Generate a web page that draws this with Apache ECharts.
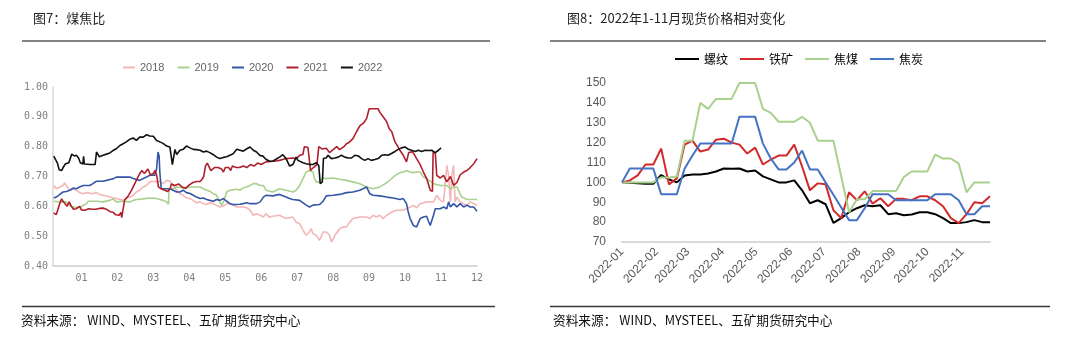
<!DOCTYPE html>
<html>
<head>
<meta charset="utf-8">
<script src="https://cdn.jsdelivr.net/npm/echarts@6/dist/echarts.min.js"></script>
<style>
  html, body { margin: 0; padding: 0; background: #ffffff; }
  #chart { width: 1080px; height: 347px; }
</style>
</head>
<body>
<div id="chart"></div>
<script>
// ---------- 图7：煤焦比 (x = month position, "01" at 1 ... "12" at 12) ----------
const ratioTicks = [1, 2, 3, 4, 5, 6, 7, 8, 9, 10, 11, 12];
const ratioTickLabels = ['01', '02', '03', '04', '05', '06', '07', '08', '09', '10', '11', '12'];
const ratioYears = ['2018', '2019', '2020', '2021', '2022'];

const ratio2018 = [[0.23,0.67],[0.3,0.659],[0.4,0.665],[0.49,0.67],[0.53,0.679],[0.58,0.67],[0.68,0.654],[0.77,0.659],[0.86,0.654],[0.95,0.646],[1.05,0.642],[1.14,0.646],[1.32,0.642],[1.42,0.646],[1.51,0.64],[1.6,0.637],[1.7,0.635],[1.88,0.628],[1.97,0.626],[2.07,0.623],[2.16,0.62],[2.25,0.628],[2.35,0.631],[2.44,0.637],[2.53,0.648],[2.62,0.654],[2.72,0.665],[2.81,0.67],[2.9,0.682],[3.0,0.684],[3.09,0.682],[3.18,0.684],[3.27,0.676],[3.37,0.687],[3.46,0.684],[3.55,0.67],[3.65,0.654],[3.74,0.642],[3.83,0.637],[3.92,0.628],[4.02,0.626],[4.11,0.62],[4.2,0.612],[4.3,0.615],[4.39,0.609],[4.48,0.606],[4.57,0.612],[4.67,0.609],[4.76,0.603],[4.85,0.598],[4.95,0.601],[5.04,0.609],[5.13,0.609],[5.22,0.603],[5.32,0.598],[5.5,0.598],[5.6,0.595],[5.69,0.587],[5.78,0.57],[5.87,0.575],[5.97,0.57],[6.06,0.564],[6.13,0.575],[6.23,0.564],[6.32,0.567],[6.51,0.57],[6.6,0.564],[6.69,0.559],[6.88,0.564],[6.97,0.547],[7.07,0.542],[7.16,0.52],[7.25,0.503],[7.34,0.514],[7.39,0.525],[7.44,0.508],[7.53,0.503],[7.62,0.486],[7.72,0.514],[7.81,0.514],[7.9,0.503],[7.95,0.48],[8.05,0.503],[8.18,0.525],[8.28,0.531],[8.37,0.531],[8.46,0.547],[8.55,0.559],[8.74,0.564],[8.93,0.564],[9.02,0.559],[9.11,0.57],[9.2,0.564],[9.3,0.57],[9.39,0.559],[9.49,0.57],[9.63,0.581],[9.77,0.587],[9.95,0.587],[10.04,0.592],[10.14,0.598],[10.23,0.603],[10.32,0.595],[10.42,0.609],[10.6,0.615],[10.79,0.615],[10.88,0.637],[10.98,0.62],[11.07,0.615],[11.12,0.68],[11.16,0.737],[11.21,0.704],[11.26,0.615],[11.3,0.704],[11.35,0.737],[11.39,0.615],[11.44,0.631],[11.53,0.615],[11.63,0.609],[11.72,0.603],[11.81,0.615],[11.91,0.609],[12.0,0.603]];

const ratio2019 = [[0.23,0.617],[0.4,0.615],[0.58,0.615],[0.68,0.603],[0.77,0.598],[0.95,0.596],[1.05,0.603],[1.14,0.609],[1.19,0.617],[1.42,0.617],[1.6,0.615],[1.79,0.62],[1.88,0.625],[1.97,0.615],[2.16,0.617],[2.35,0.615],[2.44,0.62],[2.53,0.623],[2.72,0.625],[2.9,0.628],[3.09,0.626],[3.27,0.62],[3.37,0.615],[3.42,0.607],[3.44,0.659],[3.55,0.659],[3.65,0.665],[3.83,0.662],[4.02,0.665],[4.3,0.665],[4.39,0.659],[4.48,0.654],[4.57,0.651],[4.67,0.642],[4.76,0.637],[4.85,0.615],[4.9,0.603],[4.95,0.615],[5.04,0.648],[5.13,0.654],[5.32,0.657],[5.41,0.654],[5.5,0.662],[5.6,0.665],[5.69,0.67],[5.78,0.676],[5.87,0.676],[5.97,0.67],[6.06,0.67],[6.13,0.654],[6.32,0.648],[6.51,0.659],[6.69,0.654],[6.88,0.648],[6.97,0.654],[7.07,0.67],[7.16,0.693],[7.25,0.715],[7.34,0.72],[7.44,0.715],[7.48,0.693],[7.53,0.682],[7.62,0.682],[7.72,0.695],[7.81,0.693],[8.0,0.695],[8.18,0.691],[8.37,0.687],[8.55,0.682],[8.74,0.676],[8.93,0.665],[9.11,0.659],[9.3,0.665],[9.49,0.679],[9.67,0.698],[9.76,0.706],[9.86,0.713],[9.95,0.715],[10.04,0.72],[10.14,0.715],[10.23,0.713],[10.32,0.715],[10.42,0.715],[10.51,0.698],[10.6,0.693],[10.79,0.676],[10.98,0.67],[11.16,0.67],[11.26,0.659],[11.35,0.665],[11.44,0.665],[11.53,0.642],[11.58,0.631],[11.72,0.623],[12.0,0.623]];

const ratio2020 = [[0.23,0.628],[0.3,0.631],[0.4,0.64],[0.49,0.648],[0.58,0.65],[0.68,0.654],[0.77,0.661],[0.86,0.659],[0.95,0.665],[1.05,0.67],[1.23,0.67],[1.32,0.676],[1.42,0.684],[1.6,0.684],[1.7,0.687],[1.79,0.69],[1.88,0.692],[1.97,0.698],[2.35,0.698],[2.44,0.693],[2.53,0.69],[2.62,0.687],[2.72,0.693],[2.81,0.698],[2.9,0.704],[3.04,0.704],[3.09,0.726],[3.13,0.782],[3.16,0.77],[3.18,0.715],[3.22,0.659],[3.27,0.654],[3.46,0.659],[3.55,0.654],[3.65,0.648],[3.74,0.648],[3.83,0.654],[3.92,0.646],[4.02,0.643],[4.11,0.637],[4.2,0.631],[4.3,0.626],[4.39,0.628],[4.48,0.623],[4.57,0.62],[4.67,0.617],[4.76,0.623],[4.85,0.62],[4.95,0.626],[5.04,0.617],[5.13,0.609],[5.22,0.606],[5.32,0.606],[5.41,0.607],[5.5,0.609],[5.6,0.612],[5.69,0.609],[5.87,0.609],[5.97,0.615],[6.06,0.631],[6.13,0.637],[6.32,0.635],[6.51,0.64],[6.69,0.631],[6.79,0.626],[6.88,0.623],[7.07,0.62],[7.25,0.604],[7.34,0.598],[7.44,0.604],[7.62,0.606],[7.72,0.617],[7.81,0.635],[8.0,0.637],[8.18,0.64],[8.37,0.646],[8.55,0.648],[8.74,0.654],[8.83,0.659],[8.93,0.665],[8.98,0.66],[9.02,0.642],[9.11,0.637],[9.3,0.635],[9.49,0.631],[9.67,0.628],[9.86,0.623],[9.95,0.626],[10.04,0.609],[10.09,0.58],[10.14,0.559],[10.23,0.536],[10.32,0.531],[10.42,0.559],[10.51,0.564],[10.6,0.567],[10.65,0.55],[10.7,0.536],[10.74,0.534],[10.79,0.57],[10.84,0.592],[10.88,0.588],[10.98,0.592],[11.07,0.598],[11.16,0.592],[11.21,0.615],[11.26,0.598],[11.35,0.609],[11.44,0.598],[11.53,0.609],[11.63,0.598],[11.72,0.604],[11.81,0.598],[11.91,0.598],[12.0,0.583]];

const ratio2021 = [[0.23,0.578],[0.3,0.572],[0.35,0.575],[0.4,0.61],[0.45,0.625],[0.5,0.615],[0.55,0.62],[0.6,0.6],[0.66,0.615],[0.72,0.6],[0.78,0.59],[0.86,0.592],[0.95,0.6],[1.0,0.588],[1.1,0.587],[1.2,0.592],[1.3,0.59],[1.4,0.59],[1.5,0.593],[1.6,0.594],[1.7,0.59],[1.8,0.582],[1.88,0.58],[1.95,0.572],[2.0,0.578],[2.05,0.57],[2.1,0.58],[2.12,0.562],[2.2,0.62],[2.3,0.635],[2.4,0.655],[2.5,0.68],[2.6,0.705],[2.68,0.72],[2.75,0.71],[2.85,0.725],[2.92,0.705],[3.0,0.71],[3.05,0.72],[3.1,0.7],[3.14,0.665],[3.2,0.66],[3.3,0.655],[3.4,0.65],[3.47,0.66],[3.5,0.675],[3.6,0.67],[3.7,0.675],[3.8,0.665],[3.9,0.66],[4.0,0.672],[4.1,0.68],[4.2,0.683],[4.3,0.683],[4.35,0.69],[4.4,0.7],[4.45,0.735],[4.5,0.745],[4.55,0.748],[4.6,0.72],[4.7,0.73],[4.8,0.73],[4.9,0.725],[4.95,0.715],[5.0,0.73],[5.1,0.73],[5.15,0.72],[5.2,0.735],[5.3,0.73],[5.4,0.73],[5.5,0.735],[5.6,0.73],[5.7,0.74],[5.8,0.735],[5.9,0.745],[6.0,0.74],[6.04,0.742],[6.13,0.749],[6.32,0.751],[6.51,0.754],[6.69,0.76],[6.88,0.762],[6.97,0.76],[7.07,0.771],[7.16,0.774],[7.2,0.8],[7.3,0.797],[7.34,0.796],[7.37,0.72],[7.45,0.73],[7.55,0.74],[7.6,0.8],[7.7,0.792],[7.81,0.795],[7.9,0.78],[8.0,0.79],[8.1,0.8],[8.18,0.79],[8.3,0.8],[8.37,0.81],[8.45,0.815],[8.55,0.827],[8.65,0.85],[8.74,0.87],[8.85,0.88],[8.93,0.894],[9.0,0.927],[9.25,0.927],[9.3,0.915],[9.35,0.91],[9.42,0.895],[9.49,0.883],[9.56,0.86],[9.63,0.85],[9.72,0.816],[9.8,0.8],[9.86,0.787],[9.95,0.771],[10.04,0.749],[10.1,0.78],[10.2,0.783],[10.25,0.775],[10.32,0.76],[10.42,0.74],[10.51,0.715],[10.6,0.693],[10.7,0.654],[10.76,0.65],[10.78,0.78],[10.84,0.78],[10.88,0.704],[10.98,0.695],[11.07,0.704],[11.16,0.682],[11.26,0.7],[11.35,0.67],[11.44,0.68],[11.53,0.705],[11.63,0.715],[11.72,0.72],[11.81,0.73],[11.91,0.743],[12.0,0.76]];

const ratio2022 = [[0.23,0.768],[0.28,0.774],[0.33,0.746],[0.38,0.723],[0.45,0.72],[0.5,0.732],[0.56,0.743],[0.65,0.746],[0.7,0.746],[0.73,0.775],[0.8,0.769],[0.86,0.771],[0.92,0.762],[0.97,0.746],[1.04,0.742],[1.06,0.768],[1.08,0.742],[1.25,0.74],[1.38,0.74],[1.42,0.782],[1.46,0.788],[1.5,0.766],[1.6,0.771],[1.7,0.775],[1.79,0.779],[1.88,0.787],[1.97,0.793],[2.07,0.804],[2.16,0.81],[2.25,0.816],[2.35,0.825],[2.44,0.829],[2.53,0.821],[2.62,0.832],[2.72,0.832],[2.81,0.84],[2.9,0.836],[3.0,0.835],[3.09,0.821],[3.18,0.816],[3.27,0.811],[3.37,0.802],[3.46,0.799],[3.5,0.8],[3.53,0.74],[3.57,0.737],[3.6,0.79],[3.65,0.774],[3.74,0.788],[3.83,0.791],[3.92,0.802],[4.02,0.796],[4.11,0.791],[4.2,0.79],[4.3,0.788],[4.39,0.782],[4.48,0.785],[4.57,0.78],[4.67,0.773],[4.76,0.765],[4.85,0.76],[4.95,0.764],[5.04,0.766],[5.13,0.771],[5.22,0.776],[5.32,0.791],[5.41,0.788],[5.5,0.785],[5.6,0.793],[5.69,0.799],[5.78,0.788],[5.87,0.782],[5.97,0.77],[6.04,0.769],[6.13,0.758],[6.23,0.751],[6.32,0.751],[6.41,0.758],[6.51,0.765],[6.6,0.773],[6.69,0.76],[6.79,0.735],[6.88,0.74],[6.97,0.765],[7.02,0.754],[7.07,0.756],[7.16,0.746],[7.25,0.743],[7.35,0.74],[7.44,0.74],[7.53,0.746],[7.6,0.737],[7.64,0.676],[7.7,0.682],[7.73,0.76],[7.81,0.763],[7.86,0.771],[7.95,0.76],[8.05,0.762],[8.14,0.765],[8.23,0.771],[8.32,0.765],[8.42,0.762],[8.51,0.762],[8.6,0.771],[8.7,0.769],[8.79,0.76],[8.88,0.754],[8.97,0.76],[9.06,0.754],[9.16,0.757],[9.25,0.76],[9.35,0.771],[9.44,0.773],[9.53,0.771],[9.62,0.777],[9.72,0.784],[9.81,0.791],[9.9,0.796],[10.0,0.799],[10.09,0.791],[10.18,0.788],[10.28,0.784],[10.37,0.788],[10.46,0.784],[10.56,0.788],[10.65,0.787],[10.74,0.788],[10.84,0.78],[10.93,0.788],[11.0,0.796]];

// ---------- 图8：2022年1-11月现货价格相对变化 (weekly, day offset from 2022-01-01) ----------
const weekDays = [0,7,14,21,28,35,42,49,56,63,70,77,84,91,98,105,112,119,126,133,140,147,154,161,168,175,182,189,196,203,210,217,224,231,238,245,252,259,266,273,280,287,294,301,308,315,322,329];
const monthStartDays = [0, 31, 59, 90, 120, 151, 181, 212, 243, 273, 304];
const monthLabels = ['2022-01','2022-02','2022-03','2022-04','2022-05','2022-06','2022-07','2022-08','2022-09','2022-10','2022-11'];
const spotNames = ['螺纹', '铁矿', '焦煤', '焦炭'];
const rebar = [100,99.8,99.5,99.3,99.3,103.7,101.5,100,103.5,104,104,104.5,105.5,107,106.8,107,105.5,106,103,101.5,100,100,101,96,89.5,91,89,79.6,82,85,87,88.5,88,88.5,84,84.5,83.5,83.8,85,85,84,82,79.5,79.5,80,81,80,80];
const ironOre = [100,101,103.5,109,109,117,99,102,119,121,115.5,116.5,121.5,122,120,119,114.5,117.5,109,111.5,113.5,113.5,119,108,96,99.5,99,86,82,95,91,95.5,89.3,92,88,91.7,91.7,91,93,93,91,88,82,79.5,84,90,89.5,93];
const cokingCoal = [100,100,100,100,100,102.5,102.5,103,121,121,140,137,142,142,142,150,150,150,137,135,130.5,130.5,130.5,133,130,121,121,121,103,85,91.5,91.5,95.6,95.6,95.6,95.6,102.7,105.5,105.5,105.5,114,112,112,109.4,95,100,100,100];
const coke = [100,107,107,107,107,94,94,94,107,113.5,119.5,119.5,119.5,119.5,119.5,133,133,133,119.5,112,106.5,106.5,110,116,106.5,106.5,100,93.8,87.4,81,81,87,94,94,94,91,91,91,91,91,94,94,94,91,84,84,88,88];

const ratioColors = ['#f4b6b6', '#a9d18e', '#3556a6', '#b0202c', '#111111'];
const spotColors = ['#000000', '#d22a2a', '#a9d18e', '#4472c4'];

const chart = echarts.init(document.getElementById('chart'), null, { renderer: 'canvas' });

const ratioSeriesData = [ratio2018, ratio2019, ratio2020, ratio2021, ratio2022];
const spotSeriesData = [rebar, ironOre, cokingCoal, coke];

const series = [];
ratioYears.forEach((name, i) => {
  series.push({
    name, type: 'line', xAxisIndex: 0, yAxisIndex: 0,
    data: ratioSeriesData[i], symbol: 'none', smooth: false,
    lineStyle: { color: ratioColors[i], width: 1.6 },
    itemStyle: { color: ratioColors[i] },
    z: 2 + i
  });
});
spotNames.forEach((name, i) => {
  series.push({
    name, type: 'line', xAxisIndex: 1, yAxisIndex: 1,
    data: spotSeriesData[i].map((v, k) => [weekDays[k], v]),
    symbol: 'none', smooth: false,
    lineStyle: { color: spotColors[i], width: 2 },
    itemStyle: { color: spotColors[i] },
    z: 2 + i
  });
});

const cjk = '"Noto Sans CJK SC", "Noto Sans", sans-serif';

const option = {
  animation: false,
  backgroundColor: '#ffffff',
  grid: [
    { left: 53, right: 603, top: 87, bottom: 81, containLabel: false, outerBoundsMode: 'none' },
    { left: 622, right: 90, top: 83, bottom: 105, containLabel: false, outerBoundsMode: 'none' }
  ],
  legend: [
    {
      data: ratioYears, left: 118, top: 57, orient: 'horizontal',
      icon: 'rect', itemWidth: 12, itemHeight: 2, itemGap: 13,
      textStyle: { color: '#666666', fontSize: 11, fontFamily: '"Liberation Sans", Arial, sans-serif' }
    },
    {
      data: spotNames, left: 670, top: 48, orient: 'horizontal',
      icon: 'rect', itemWidth: 24, itemHeight: 2, itemGap: 12,
      textStyle: { color: '#000000', fontSize: 12, fontFamily: cjk }
    }
  ],
  xAxis: [
    {
      gridIndex: 0, type: 'value', min: 0.21, max: 12,
      axisLine: { show: true, lineStyle: { color: '#d9d9d9', width: 2 } },
      axisTick: { show: false },
      splitLine: { show: false },
      axisLabel: {
        customValues: ratioTicks,
        formatter: v => ratioTickLabels[ratioTicks.indexOf(Math.round(v))],
        color: '#7f7f7f', fontSize: 10, margin: 7,
        fontFamily: '"DejaVu Sans Mono", monospace'
      }
    },
    {
      gridIndex: 1, type: 'value', min: 0, max: 329,
      axisLine: { show: true, lineStyle: { color: '#d9d9d9', width: 2 } },
      axisTick: { show: false },
      splitLine: { show: false },
      axisLabel: {
        customValues: monthStartDays,
        formatter: v => monthLabels[monthStartDays.indexOf(Math.round(v))],
        rotate: 45, color: '#595959', fontSize: 12, margin: 8,
        fontFamily: '"Liberation Sans", Arial, sans-serif'
      }
    }
  ],
  yAxis: [
    {
      gridIndex: 0, type: 'value', min: 0.4, max: 1.0, interval: 0.1,
      axisLine: { show: true, lineStyle: { color: '#d9d9d9', width: 1.5 } },
      axisTick: { show: false },
      splitLine: { show: false },
      axisLabel: {
        formatter: v => v.toFixed(2), color: '#7f7f7f', fontSize: 10, margin: 5,
        fontFamily: '"DejaVu Sans Mono", monospace'
      }
    },
    {
      gridIndex: 1, type: 'value', min: 70, max: 150, interval: 10,
      axisLine: { show: false },
      axisTick: { show: false },
      splitLine: { show: false },
      axisLabel: {
        color: '#595959', fontSize: 12, margin: 16,
        fontFamily: '"Liberation Sans", Arial, sans-serif'
      }
    }
  ],
  graphic: [
    { type: 'text', x: 33, y: 18, style: { text: '图7：煤焦比', fill: '#262626', font: '13px ' + cjk, textVerticalAlign: 'middle' } },
    { type: 'text', x: 567, y: 18.5, style: { text: '图8：2022年1-11月现货价格相对变化', fill: '#262626', font: '13px ' + cjk, textVerticalAlign: 'middle' } },
    { type: 'line', shape: { x1: 22, y1: 41, x2: 490, y2: 41 }, style: { stroke: '#5a5a5a', lineWidth: 1.5 } },
    { type: 'line', shape: { x1: 550, y1: 41, x2: 1046, y2: 41 }, style: { stroke: '#5a5a5a', lineWidth: 1.5 } },
    { type: 'line', shape: { x1: 22, y1: 306.5, x2: 495, y2: 306.5 }, style: { stroke: '#3a3a3a', lineWidth: 1.5 } },
    { type: 'line', shape: { x1: 550, y1: 306.5, x2: 1050, y2: 306.5 }, style: { stroke: '#3a3a3a', lineWidth: 1.5 } },
    { type: 'text', x: 21, y: 320.5, style: { text: '资料来源： WIND、MYSTEEL、五矿期货研究中心', fill: '#111111', font: '12.7px ' + cjk, textVerticalAlign: 'middle' } },
    { type: 'text', x: 553, y: 320.5, style: { text: '资料来源： WIND、MYSTEEL、五矿期货研究中心', fill: '#111111', font: '12.7px ' + cjk, textVerticalAlign: 'middle' } }
  ],
  series
};

chart.setOption(option);
</script>
</body>
</html>
